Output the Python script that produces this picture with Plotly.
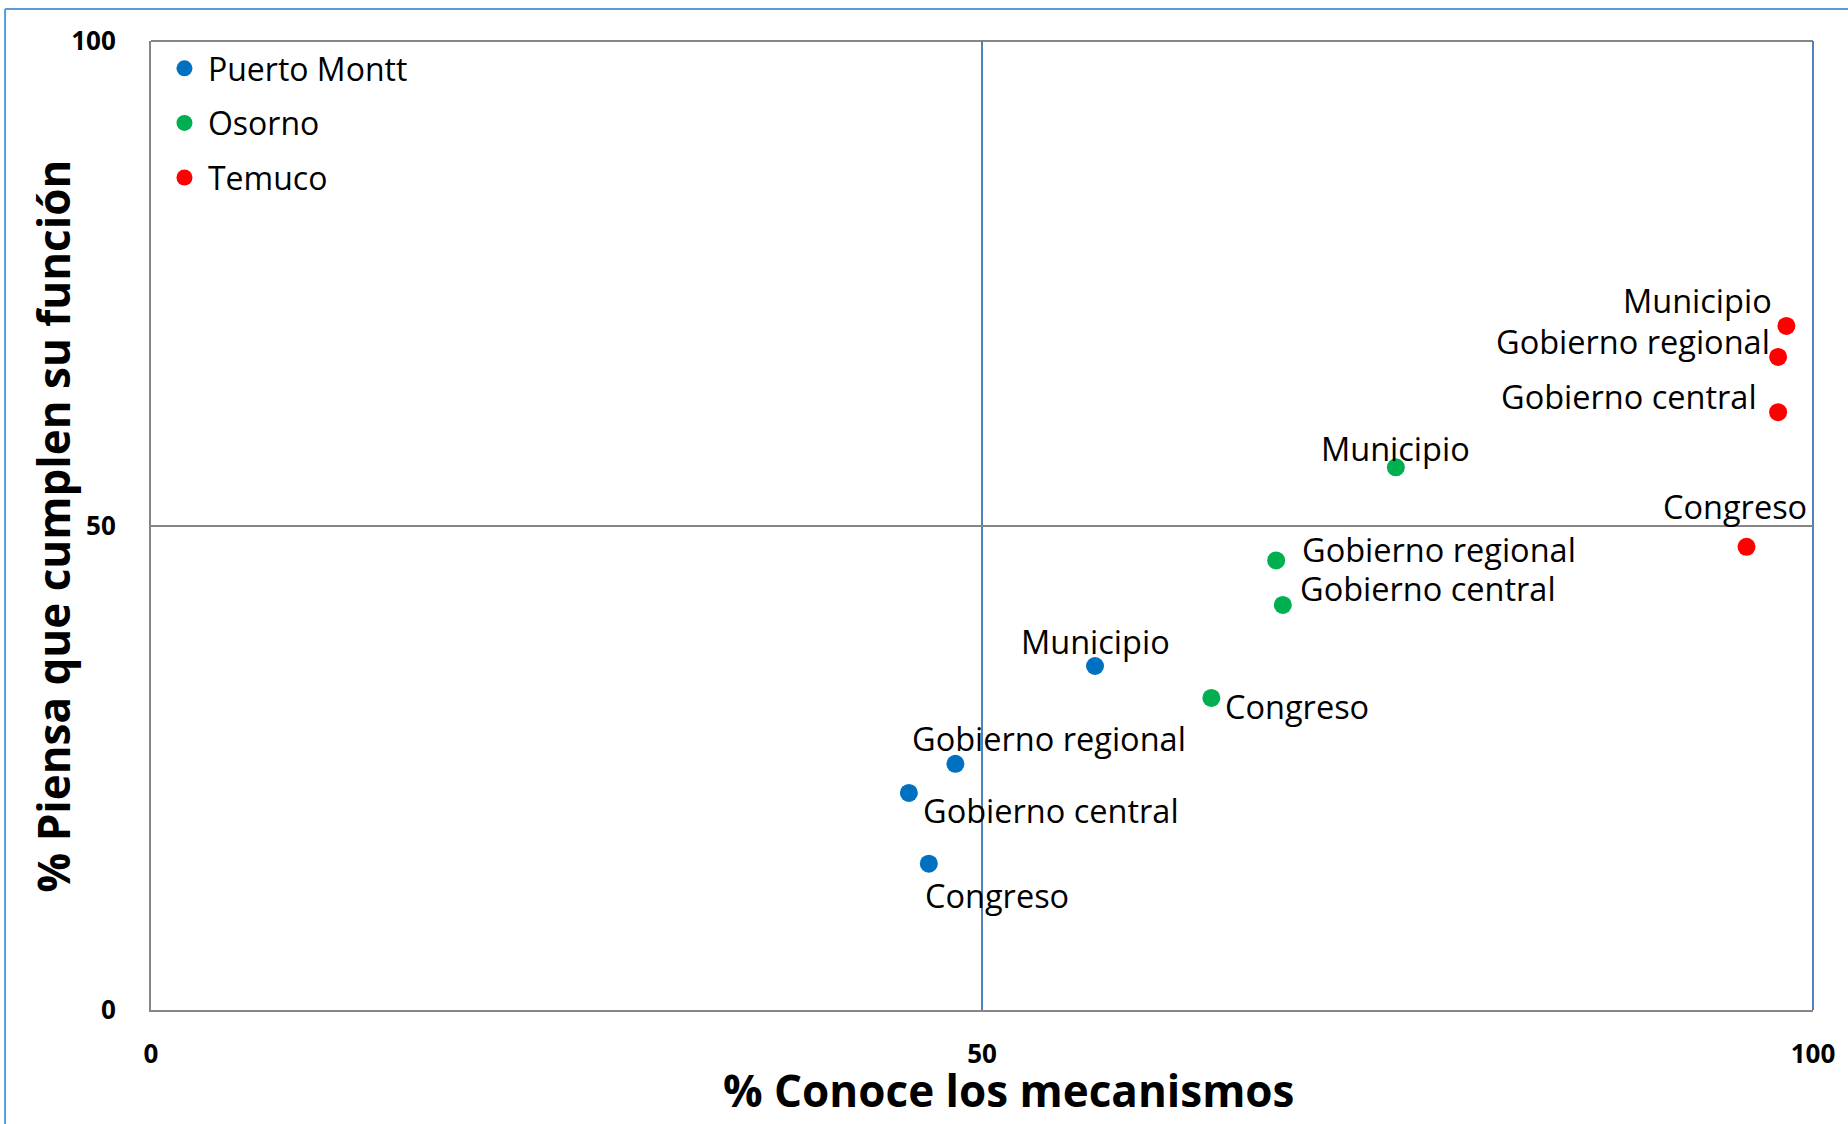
import plotly.graph_objects as go

# ---- data ----
categories = ["Municipio", "Gobierno regional", "Gobierno central", "Congreso"]
series_names = ["Puerto Montt", "Osorno", "Temuco"]
conoce = {
    "Puerto Montt": [56.8, 48.4, 45.6, 46.8],
    "Osorno": [74.9, 67.7, 68.1, 63.8],
    "Temuco": [98.4, 97.9, 97.9, 96.0],
}
cumplen = {
    "Puerto Montt": [35.5, 25.4, 22.4, 15.1],
    "Osorno": [56.0, 46.4, 41.8, 32.2],
    "Temuco": [70.6, 67.4, 61.7, 47.8],
}
tick_vals = [0, 50, 100]
tick_text = ["0", "50", "100"]
x_title = "% Conoce los mecanismos"
y_title = "% Piensa que cumplen su función"

# ---- styles ----
colors = {"Puerto Montt": "#0070C0", "Osorno": "#00B050", "Temuco": "#FF0000"}
BLUE_LINE = "#4F81BD"
GRAY_LINE = "#868686"
# label placement per series: (xanchor, xshift, yshift) for each category
label_style = {
    "Puerto Montt": [("center", 0, 25), ("left", -45, 25), ("left", 12, -18), ("left", -6, -32)],
    "Osorno": [("center", 0, 19), ("left", 24, 11), ("left", 15, 16), ("left", 12, -9)],
    "Temuco": [("right", -12, 25), ("right", -6, 15), ("right", -19, 16), ("center", -12, 40)],
}
FONT = "Open Sans"

fig = go.Figure()
annotations = []
for name in series_names:
    fig.add_trace(go.Scatter(
        x=conoce[name], y=cumplen[name], mode="markers", name=name,
        legendgroup=name,
        marker=dict(color=colors[name], size=18),
        hoverinfo="skip",
    ))
    for i, cat in enumerate(categories):
        xa, xs, ys = label_style[name][i]
        annotations.append(dict(
            x=conoce[name][i], y=cumplen[name][i], xref="x", yref="y",
            text=cat, showarrow=False, xanchor=xa, yanchor="middle",
            xshift=xs, yshift=ys,
            font=dict(family=FONT, size=32.5, color="#000000"),
        ))

title_font = dict(family=FONT, size=44, color="#000000", weight="bold")
# axis titles placed as annotations next to the axes
annotations.append(dict(
    x=-0.059, y=0.5, xref="paper", yref="paper", text=y_title,
    showarrow=False, textangle=-90, xanchor="center", yanchor="middle",
    font=title_font,
))
annotations.append(dict(
    x=0.516, y=-0.0826, xref="paper", yref="paper", text=x_title,
    showarrow=False, xanchor="center", yanchor="middle",
    font=title_font,
))

shapes = [
    # outer chart frame (left and top edges visible)
    dict(type="line", xref="paper", yref="paper", x0=-0.0878, x1=-0.0878, y0=1.033, y1=-0.2,
         line=dict(color="#5B9BD5", width=2)),
    dict(type="line", xref="paper", yref="paper", x0=-0.0878, x1=1.05, y0=1.033, y1=1.033,
         line=dict(color="#5B9BD5", width=2)),
    # plot area top (gray) and right (blue) borders
    dict(type="line", xref="x domain", yref="y domain", x0=0, x1=1, y0=1, y1=1,
         line=dict(color=GRAY_LINE, width=2), layer="below"),
    dict(type="line", xref="x domain", yref="y domain", x0=1, x1=1, y0=0, y1=1,
         line=dict(color=BLUE_LINE, width=2), layer="below"),
]

fig.update_layout(
    width=1848, height=1124,
    margin=dict(l=151, r=35, t=41, b=114),
    paper_bgcolor="white", plot_bgcolor="white",
    showlegend=True,
    legend=dict(
        x=0.006, y=1.0, xanchor="left", yanchor="top",
        font=dict(family=FONT, size=32, color="#000000"),
        bgcolor="rgba(0,0,0,0)", tracegroupgap=10, traceorder="grouped",
        itemsizing="trace", itemwidth=37,
    ),
    annotations=annotations,
    shapes=shapes,
    font=dict(family=FONT),
)
fig.update_xaxes(
    range=[0, 100], tickvals=tick_vals, ticktext=tick_text,
    showgrid=True, gridcolor=BLUE_LINE, gridwidth=1.5,
    showline=True, linecolor=GRAY_LINE, linewidth=2,
    zeroline=False, ticks="", ticklabelstandoff=20, automargin=False,
    tickfont=dict(family=FONT, size=26, color="#000000", weight="bold"),
)
fig.update_yaxes(
    range=[0, 100], tickvals=tick_vals, ticktext=tick_text,
    showgrid=True, gridcolor=GRAY_LINE, gridwidth=1.5,
    showline=True, linecolor=GRAY_LINE, linewidth=2,
    zeroline=False, ticks="", ticklabelstandoff=28, automargin=False,
    tickfont=dict(family=FONT, size=26, color="#000000", weight="bold"),
)

fig.write_html(
    "out.html",
    config={"displayModeBar": False},
    post_script="document.body.style.margin='0';document.body.style.overflow='hidden';",
)
